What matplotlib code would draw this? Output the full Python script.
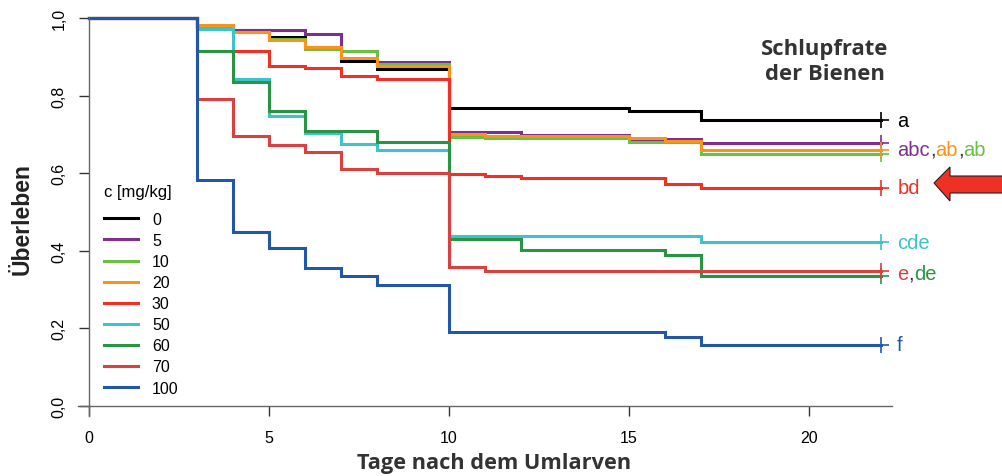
import matplotlib
matplotlib.use("Agg")
import matplotlib.pyplot as plt
from matplotlib.patches import Polygon

plt.rcParams['font.family'] = ['Liberation Sans', 'DejaVu Sans']

# Kaplan-Meier curves (time in days, survival)
groups = ['0', '5', '10', '20', '30', '50', '60', '70', '100']
colors = ['#000000', '#7E2F8E', '#6CBE45', '#F7941D', '#EE3124',
          '#3DC3C8', '#2A9446', '#D94141', '#2157A6']

t_0 = [0, 3, 4, 5, 6, 7, 8, 10, 15, 17, 22]
s_0 = [1, 0.98, 0.97, 0.95, 0.925, 0.89, 0.869, 0.767, 0.759, 0.737, 0.737]
t_5 = [0, 3, 4, 6, 7, 8, 10, 12, 15, 17, 22]
s_5 = [1, 0.98, 0.969, 0.959, 0.914, 0.886, 0.707, 0.699, 0.688, 0.677, 0.677]
t_10 = [0, 3, 4, 5, 6, 7, 8, 10, 11, 15, 17, 22]
s_10 = [1, 0.98, 0.963, 0.946, 0.92, 0.914, 0.881, 0.694, 0.69, 0.68, 0.649, 0.649]
t_20 = [0, 3, 4, 5, 6, 7, 8, 10, 11, 15, 16, 17, 22]
s_20 = [1, 0.981, 0.963, 0.943, 0.924, 0.898, 0.877, 0.701, 0.695, 0.691, 0.684, 0.661, 0.661]
t_30 = [0, 3, 5, 6, 7, 8, 10, 11, 12, 16, 17, 22]
s_30 = [1, 0.916, 0.877, 0.872, 0.851, 0.843, 0.598, 0.592, 0.588, 0.571, 0.562, 0.562]
t_50 = [0, 3, 4, 5, 6, 7, 8, 10, 17, 22]
s_50 = [1, 0.972, 0.843, 0.748, 0.703, 0.675, 0.661, 0.437, 0.422, 0.422]
t_60 = [0, 3, 4, 5, 6, 8, 10, 12, 16, 17, 22]
s_60 = [1, 0.916, 0.834, 0.761, 0.708, 0.681, 0.43, 0.403, 0.389, 0.334, 0.334]
t_70 = [0, 3, 4, 5, 6, 7, 8, 10, 11, 22]
s_70 = [1, 0.791, 0.697, 0.673, 0.654, 0.612, 0.60, 0.357, 0.349, 0.349]
t_100 = [0, 3, 4, 5, 6, 7, 8, 10, 16, 17, 22]
s_100 = [1, 0.582, 0.449, 0.407, 0.355, 0.334, 0.313, 0.19, 0.179, 0.158, 0.158]

times = [t_0, t_5, t_10, t_20, t_30, t_50, t_60, t_70, t_100]
survs = [s_0, s_5, s_10, s_20, s_30, s_50, s_60, s_70, s_100]

# significance letters next to curve ends: (y position, [(text, colour), ...])
letters = [
    (0.737, [('a', '#000000')]),
    (0.662, [('abc', '#7E2F8E'), (',', '#333333'), ('ab', '#F7941D'),
             (',', '#333333'), ('ab', '#6CBE45')]),
    (0.562, [('bd', '#EE3124')]),
    (0.422, [('cde', '#3DC3C8')]),
    (0.342, [('e', '#D94141'), (',', '#333333'), ('de', '#2A9446')]),
    (0.158, [('f', '#2157A6')]),
]

fig = plt.figure(figsize=(10.03, 4.77), dpi=100)
ax = fig.add_axes([0.0708, 0.1061, 0.8435, 0.8704])
ax.set_xlim(-0.5, 23)
ax.set_ylim(-0.05, 1.02)

for t, s, c, g in zip(times, survs, colors, groups):
    ax.step(t, s, where='post', color=c, lw=2.2, label=g, solid_joinstyle='miter')
    ax.plot(t[-1], s[-1], marker='+', ms=12, mew=1.2, color=c)

# axes in R style
for side in ['top', 'right']:
    ax.spines[side].set_visible(False)
ax.spines['left'].set_position(('data', 0))
ax.spines['bottom'].set_position(('data', 0))
ax.spines['left'].set_bounds(-0.026, 1.0)
ax.spines['bottom'].set_bounds(-0.3, 22.3)
for side in ['left', 'bottom']:
    ax.spines[side].set_color('#666666')
    ax.spines[side].set_linewidth(1.0)

ax.set_xticks([0, 5, 10, 15, 20])
ax.set_yticks([0, 0.2, 0.4, 0.6, 0.8, 1.0])
ax.set_yticklabels(['0,0', '0,2', '0,4', '0,6', '0,8', '1,0'], rotation=90, va='center')
ax.tick_params(axis='x', length=7, width=1, color='#333333', pad=10, labelsize=11.5)
ax.tick_params(axis='y', length=7, width=1, color='#333333', pad=9, labelsize=11.5)

ax.set_xlabel('Tage nach dem Umlarven', family=['Open Sans', 'DejaVu Sans'],
              fontweight='bold', fontsize=15.7, color='#333333', labelpad=5)
ax.set_ylabel('Überleben', fontweight='bold', fontsize=16.5, color='#222222', labelpad=13)

leg = ax.legend(loc='upper left', bbox_to_anchor=(104 / 1003, 1 - 213 / 477),
                bbox_transform=fig.transFigure, frameon=False,
                fontsize=11.5, handlelength=2.1,
                handletextpad=0.9, labelspacing=0.38,
                borderpad=0, borderaxespad=0)
fig.text(104 / 1003, 1 - 193 / 477, 'c [mg/kg]', ha='left', va='center', fontsize=12)

fig.text(825 / 1003, 1 - 62 / 477, 'Schlupfrate\nder Bienen', ha='center', va='center',
         family=['Open Sans', 'DejaVu Sans'], fontweight='bold', fontsize=15.8,
         color='#333333', linespacing=1.3)

for y, pieces in letters:
    prev = ax.annotate(pieces[0][0], xy=(22.45, y), va='center', ha='left',
                       fontsize=14.5, color=pieces[0][1])
    for txt, col in pieces[1:]:
        prev = ax.annotate(txt, xy=(1, 0), xycoords=prev, va='bottom', ha='left',
                           fontsize=14.5, color=col)

arrow_px = [(934, 184), (950, 168), (950, 177), (1003, 177),
            (1003, 194), (950, 194), (950, 202)]
arrow = Polygon([(x / 1003, 1 - y / 477) for x, y in arrow_px], closed=True,
                transform=fig.transFigure, facecolor='#EE3124', edgecolor='#222222', lw=0.8)
fig.add_artist(arrow)

fig.savefig('out.png', dpi=100)
